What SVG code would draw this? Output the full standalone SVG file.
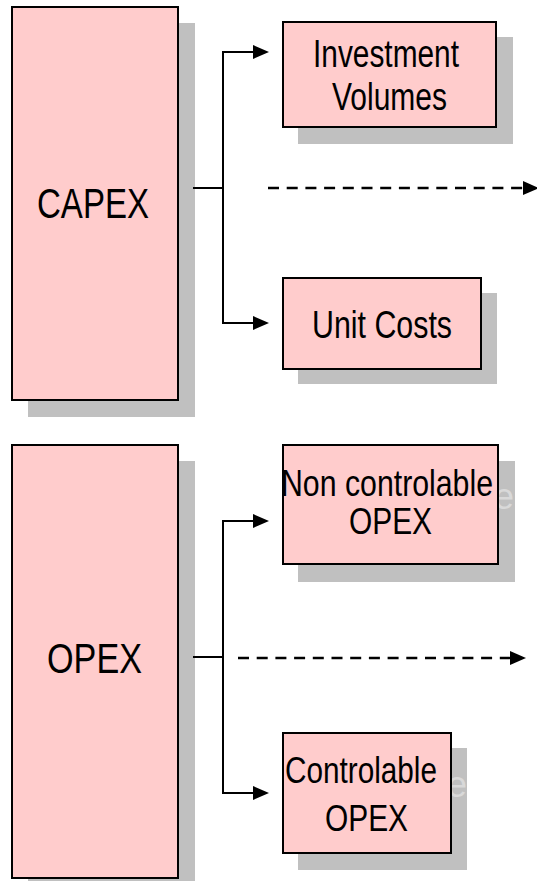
<svg xmlns="http://www.w3.org/2000/svg" width="537" height="881" viewBox="0 0 537 881">
  <defs>
    <marker id="arrow" markerUnits="userSpaceOnUse" viewBox="0 0 16 14" refX="8" refY="7" markerWidth="16" markerHeight="14" orient="auto">
      <path d="M0,0 L16,7 L0,14 z" fill="#000"/>
    </marker>
  </defs>
  <style>
    .shadow { fill: #c0c0c0; }
    .box { fill: #ffcccc; stroke: #000; stroke-width: 2; }
    .label { font-family: "Liberation Sans", Arial, sans-serif; fill: #000; }
    .ghost { font-family: "Liberation Sans", Arial, sans-serif; fill: #d9d9d9; }
    .link { fill: none; stroke: #000; stroke-width: 2; }
    .dash { fill: none; stroke: #000; stroke-width: 2.4; stroke-dasharray: 11 7.7; }
  </style>

  <!-- CAPEX -->
  <g id="capex">
    <rect class="shadow" x="28" y="23" width="167" height="394"/>
    <rect class="box" x="12" y="7" width="166" height="393"/>
    <text class="label" x="37" y="218" font-size="42" textLength="112" lengthAdjust="spacingAndGlyphs">CAPEX</text>
  </g>

  <!-- Investment Volumes -->
  <g id="investment-volumes">
    <rect class="shadow" x="298" y="37" width="215" height="107"/>
    <rect class="box" x="283" y="22" width="213" height="105"/>
    <text class="label" x="313" y="67" font-size="38" textLength="146" lengthAdjust="spacingAndGlyphs">Investment</text>
    <text class="label" x="332" y="110" font-size="38" textLength="115" lengthAdjust="spacingAndGlyphs">Volumes</text>
  </g>

  <!-- Unit Costs -->
  <g id="unit-costs">
    <rect class="shadow" x="298" y="293" width="199" height="91"/>
    <rect class="box" x="283" y="278" width="198" height="91"/>
    <text class="label" x="312" y="338" font-size="38" textLength="140" lengthAdjust="spacingAndGlyphs">Unit Costs</text>
  </g>

  <!-- OPEX -->
  <g id="opex">
    <rect class="shadow" x="28" y="461" width="167" height="433"/>
    <rect class="box" x="12" y="445" width="166" height="433"/>
    <text class="label" x="47" y="673" font-size="42" textLength="95" lengthAdjust="spacingAndGlyphs">OPEX</text>
  </g>

  <!-- Non controlable OPEX -->
  <g id="non-controlable-opex">
    <rect class="shadow" x="298" y="461" width="217" height="121"/>
    <text class="ghost" x="494" y="509" font-size="36">e</text>
    <rect class="box" x="283" y="445" width="215" height="119"/>
    <text class="label" x="281" y="496" font-size="36" textLength="212" lengthAdjust="spacingAndGlyphs">Non controlable</text>
    <text class="label" x="349" y="534" font-size="36" textLength="83" lengthAdjust="spacingAndGlyphs">OPEX</text>
  </g>

  <!-- Controlable OPEX -->
  <g id="controlable-opex">
    <rect class="shadow" x="298" y="748" width="169" height="122"/>
    <text class="ghost" x="447" y="797" font-size="36">e</text>
    <rect class="box" x="283" y="733" width="168" height="120"/>
    <text class="label" x="285" y="783" font-size="36" textLength="152" lengthAdjust="spacingAndGlyphs">Controlable</text>
    <text class="label" x="325" y="831" font-size="36" textLength="83" lengthAdjust="spacingAndGlyphs">OPEX</text>
  </g>

  <!-- connectors -->
  <g id="connectors">
    <path class="link" d="M193,188 H223 M223,52 V323"/>
    <path class="link" d="M222,52 H261" marker-end="url(#arrow)"/>
    <path class="link" d="M222,323 H261" marker-end="url(#arrow)"/>
    <path class="dash" d="M268,188 H531" marker-end="url(#arrow)"/>

    <path class="link" d="M193,657 H223 M223,521 V793"/>
    <path class="link" d="M222,521 H261" marker-end="url(#arrow)"/>
    <path class="link" d="M222,793 H261" marker-end="url(#arrow)"/>
    <path class="dash" d="M238,658 H518" marker-end="url(#arrow)"/>
  </g>
</svg>
